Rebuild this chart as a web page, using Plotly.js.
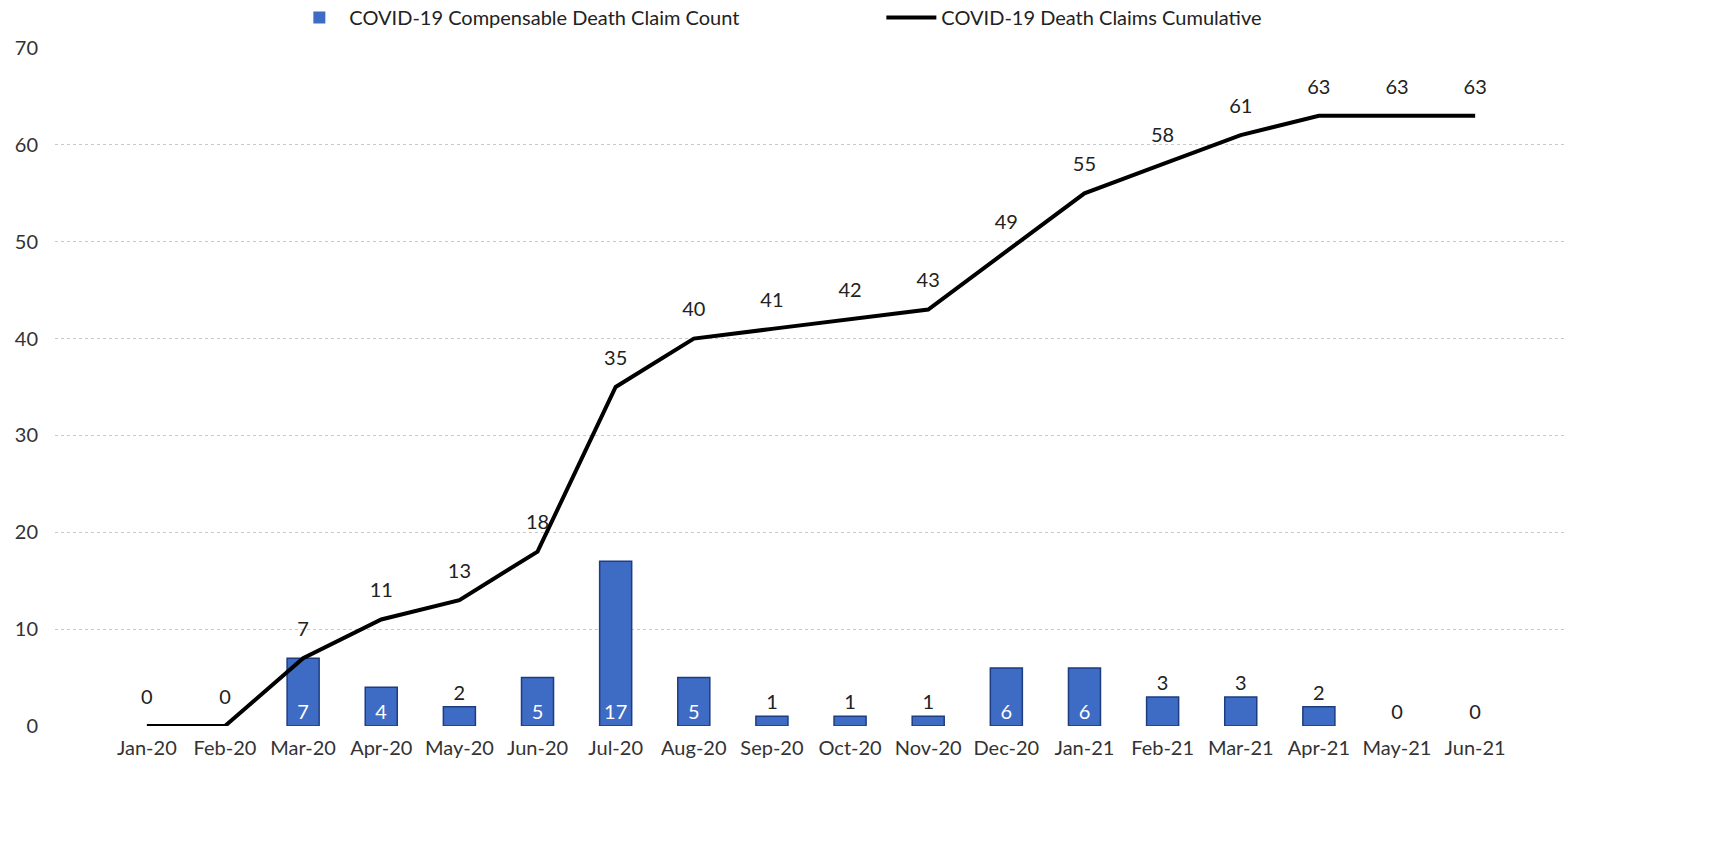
<!DOCTYPE html>
<html>
<head>
<meta charset="utf-8">
<script src="https://cdn.plot.ly/plotly-3.0.1.min.js"></script>
<style>html,body{margin:0;padding:0;background:#fff;}#chart{width:1735px;height:849px;}</style>
</head>
<body>
<div id="chart"></div>
<script>
const months = ["Jan-20","Feb-20","Mar-20","Apr-20","May-20","Jun-20","Jul-20","Aug-20","Sep-20","Oct-20","Nov-20","Dec-20","Jan-21","Feb-21","Mar-21","Apr-21","May-21","Jun-21"];
const deathCount = [0,0,7,4,2,5,17,5,1,1,1,6,6,3,3,2,0,0];
const cumulative = [0,0,7,11,13,18,35,40,41,42,43,49,55,58,61,63,63,63];
const yTicks = [0,10,20,30,40,50,60,70];

const FONT = "Lato, 'Open Sans', sans-serif";
const FS = 20;
const barPos = deathCount.map(v => v >= 4 ? 'inside' : 'outside');
const barText = deathCount.map((v, i) => (v === 0 && cumulative[i] === 0) ? '' : String(v));
const barLineW = deathCount.map(v => v === 0 ? 0 : 1.5);

const traces = [
  {
    type: 'bar', name: 'COVID-19 Compensable Death Claim Count',
    x: months, y: deathCount,
    text: barText, textposition: barPos, insidetextanchor: 'start',
    insidetextfont: {color: '#ffffff', size: FS, family: FONT},
    outsidetextfont: {color: '#222222', size: FS, family: FONT},
    cliponaxis: false,
    marker: {color: '#3E6BC4', line: {color: '#1E3C80', width: barLineW}},
    width: 0.41, hoverinfo: 'x+y'
  },
  {
    type: 'scatter', mode: 'lines', name: 'COVID-19 Death Claims Cumulative',
    x: months, y: cumulative,
    line: {color: '#000000', width: 4},
    cliponaxis: false
  },
  {
    type: 'scatter', mode: 'markers+text', showlegend: false, hoverinfo: 'skip',
    x: months, y: cumulative,
    text: cumulative.map(String), textposition: 'top center',
    textfont: {color: '#222222', size: FS, family: FONT},
    marker: {size: 26, opacity: 0, color: '#000'},
    cliponaxis: false
  }
];

const layout = {
  width: 1735, height: 849,
  margin: {l: 55, r: 168, t: 48, b: 123, autoexpand: false},
  paper_bgcolor: '#ffffff', plot_bgcolor: '#ffffff',
  font: {family: FONT, size: FS, color: '#333333'},
  showlegend: true,
  legend: {
    orientation: 'h', x: 0.155, xanchor: 'left', y: 1.045, yanchor: 'middle',
    entrywidth: 527, entrywidthmode: 'pixels',
    font: {family: FONT, size: FS, color: '#222'}, itemwidth: 50
  },
  xaxis: {
    type: 'category', showgrid: false, zeroline: false, showline: false,
    tickfont: {family: FONT, size: FS, color: '#333'}, ticks: '', ticklabelstandoff: 8
  },
  yaxis: {
    range: [0, 70], tickvals: yTicks, showgrid: true,
    gridcolor: '#c8c8c8', griddash: 'dot', gridwidth: 1,
    zeroline: false, showline: false, ticks: '',
    tickfont: {family: FONT, size: FS, color: '#333'}, ticklabelstandoff: 16
  }
};

Plotly.newPlot('chart', traces, layout, {displayModeBar: false, staticPlot: true});
</script>
</body>
</html>
